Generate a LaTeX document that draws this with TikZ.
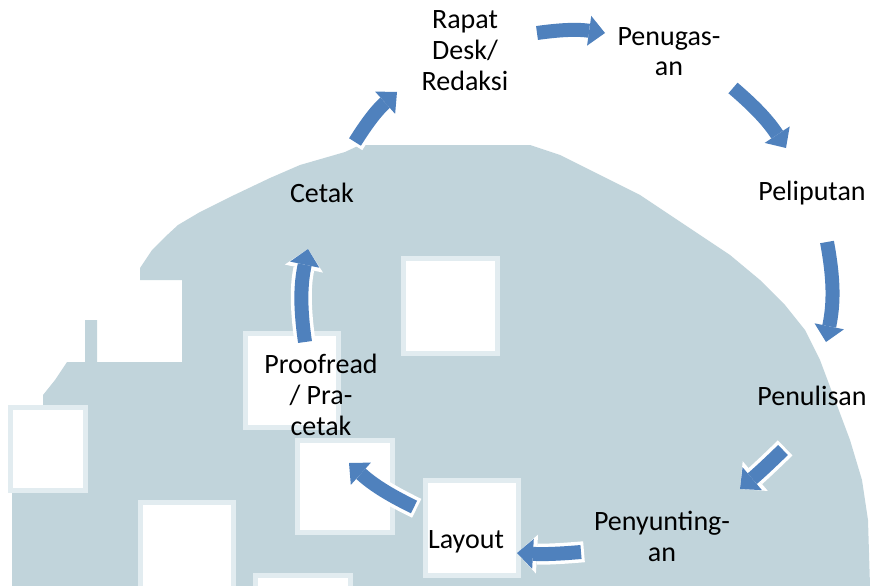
\documentclass[tikz,border=0pt]{standalone}
\usepackage{fontspec}
\setmainfont{Carlito}
\usepackage{tikz}
\usetikzlibrary{arrows.meta}
\definecolor{cyclearrow}{RGB}{79,129,189}
\definecolor{wmark}{RGB}{193,212,219}
\definecolor{wmarkedge}{RGB}{226,236,240}
\tikzstyle{stage}=[align=center,inner sep=0pt,anchor=base,font=\fontsize{28}{31}\selectfont]
\tikzstyle{window}=[fill=white,draw=wmarkedge,line width=5pt]
\tikzstyle{flow}=[draw=cyclearrow,line width=14pt,-{Triangle[length=16pt,width=30pt,line width=0pt]},
    preaction={draw=white,line width=21pt,-{Triangle[length=20pt,width=39pt,line width=0pt]},shorten <=-3pt}]

\begin{document}
\begin{tikzpicture}[x=1pt,y=-1pt]
    \useasboundingbox (0,0) rectangle (870,586);
    % Watermark behind the cycle
    \fill[wmark] (12,586) -- (12,492) -- (43,492) -- (43,395) -- (55,380) -- (67,362) -- (85,362)
        -- (85,320) -- (97,320) -- (97,362) -- (182,362) -- (182,280) -- (140,280) -- (140,268)
        -- (152,250) -- (165,237) -- (178,225) -- (200,212) -- (230,197) -- (270,178) -- (300,165)
        -- (345,152) -- (360,145) -- (530,145) -- (560,155) -- (600,175) -- (640,195) -- (670,215)
        -- (700,235) -- (730,255) -- (760,280) -- (785,305) -- (805,330) -- (820,360) -- (835,400)
        -- (850,440) -- (862,480) -- (868,520) -- (870,586) -- cycle;
    \foreach \x/\y/\w/\h in {403/258/94/95, 245/333/93/94, 297/440/95/92, 425/480/93/95,
                             140/502/93/90, 255/575/95/20, 10/407/75/83}
        \draw[window] (\x,\y) rectangle ++(\w,\h);

    % First we place the stages (base = last line)
    \foreach \pos/\name/\txt in {{(465,90)/rapat/{Rapat\\Desk/\\Redaksi}},
                                 {(669,76)/penugasan/{Penugas-\\an}},
                                 {(812,200)/peliputan/{Peliputan}},
                                 {(812,405)/penulisan/{Penulisan}},
                                 {(662,561)/penyuntingan/{Penyunting-\\an}},
                                 {(466,548)/layout/{Layout}},
                                 {(321,435)/proofread/{Proofread\\/ Pra-\\cetak}},
                                 {(322,202)/cetak/{Cetak}}}
        \node[stage] (\name) at \pos {\txt};

    % Ends of the arrows
    \foreach \x/\y/\name in {355/142/f1a, 397/92/f1b, 537/33/f2a, 605/33/f2b,
                             733/88/f3a, 786/148/f3b, 827/242/f4a, 826/342/f4b,
                             783/450/f5a, 740/489/f5b, 581/552/f6a, 517/553/f6b,
                             414/507/f7a, 349/463/f7b, 305/342/f8a, 308/249/f8b}
        \coordinate (\name) at (\x,\y);

    % Connect the stages with arrows
    \foreach \source/\dest/\bend in {f1a/f1b/8, f2a/f2b/8, f3a/f3b/8, f4a/f4b/11,
                                     f5a/f5b/2, f6a/f6b/4, f7a/f7b/8, f8a/f8b/10}
        \path[flow] (\source) to[bend left=\bend] (\dest);
\end{tikzpicture}
\end{document}
